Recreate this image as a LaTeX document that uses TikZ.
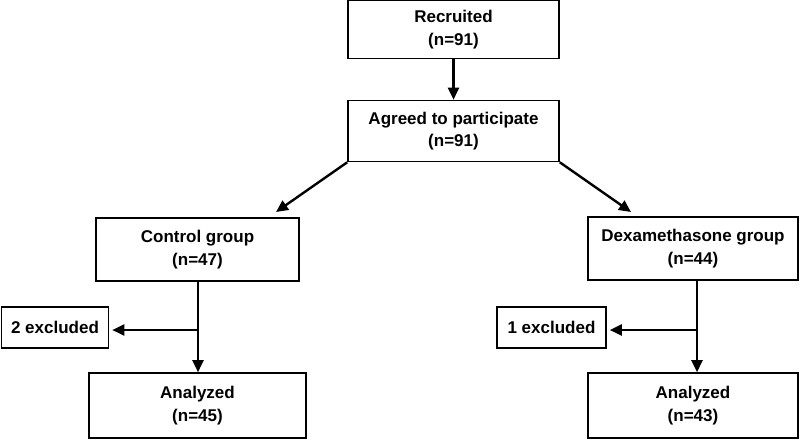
\documentclass[tikz,border=0pt]{standalone}
\usepackage{fontspec}
\setmainfont{Liberation Sans}
\usetikzlibrary{arrows.meta}
\begin{document}
\begin{tikzpicture}[x=1pt,y=-1pt,
  box/.style={draw, line width=1.6pt, rectangle, align=center, font=\bfseries\fontsize{17}{22.5}\selectfont, inner sep=0pt},
  arr/.style={line width=2.4pt, -{Triangle[length=12pt,width=11pt]}}]
\useasboundingbox (0,0) rectangle (800,439);
\node[box, minimum width=211pt, minimum height=58pt] (rec) at (453.5,29.5) {Recruited\\(n=91)};
\node[box, minimum width=211pt, minimum height=61pt] (agr) at (453.5,131) {Agreed to participate\\(n=91)};
\node[box, minimum width=203pt, minimum height=63pt] (ctl) at (197.5,249.5) {Control group\\(n=47)};
\node[box, minimum width=210pt, minimum height=63pt] (dex) at (693,248.5) {Dexamethasone group\\(n=44)};
\node[box, minimum width=107pt, minimum height=41pt] (ex2) at (55,327.5) {2 excluded};
\node[box, minimum width=109pt, minimum height=41pt] (ex1) at (551.5,327.5) {1 excluded};
\node[box, minimum width=217pt, minimum height=65pt] (an1) at (197.5,405.5) {Analyzed\\(n=45)};
\node[box, minimum width=210pt, minimum height=65pt] (an2) at (693,405.5) {Analyzed\\(n=43)};
\coordinate (dl) at (276,212);
\coordinate (dr) at (631,212);
\coordinate (jl) at (198,330);
\coordinate (jr) at (697,330);
\draw[arr] (rec.south) -- (agr.north);
\draw[arr] (agr.south west) -- (dl);
\draw[arr] (agr.south east) -- (dr);
\draw[arr] (ctl.south -| jl) -- (an1.north -| jl);
\draw[arr, shorten >=3pt] (jl) -- (ex2.east |- jl);
\draw[arr] (dex.south -| jr) -- (an2.north -| jr);
\draw[arr, shorten >=3pt] (jr) -- (ex1.east |- jr);
\end{tikzpicture}
\end{document}
